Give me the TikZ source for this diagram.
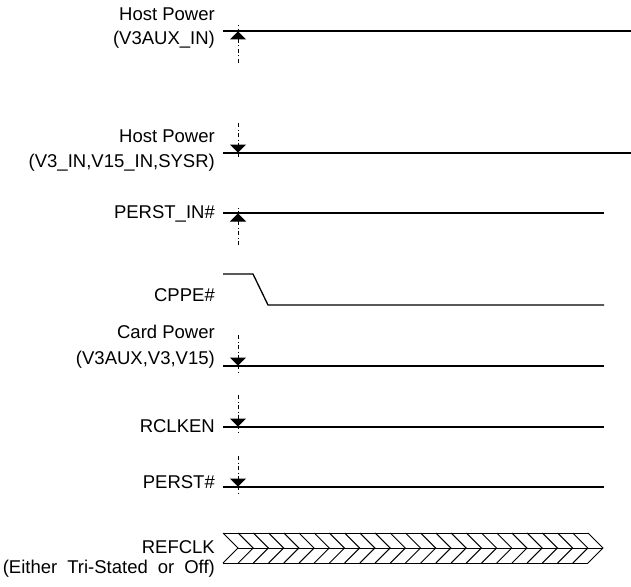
\documentclass[tikz,border=0pt]{standalone}
\usepackage{fontspec}
\setmainfont{Liberation Sans}
\usetikzlibrary{arrows.meta}
\begin{document}
\begin{tikzpicture}[x=1pt,y=-1pt,
  lbl/.style={anchor=base east, inner sep=0pt, font=\fontsize{18.5}{22}\selectfont},
  sig/.style={line width=1.3pt},
  evt/.style={line width=1pt, dash pattern=on 4pt off 2.5pt on 1pt off 2.5pt},
  arrowhead/.style={fill=black, draw=black, line width=1pt, line join=miter},
  clk/.style={line width=1pt, line join=miter}]
\useasboundingbox (0,0) rectangle (631,586);

% labels
\node[lbl] (l1a) at (215,20.6) {Host Power};
\node[lbl] (l1b) at (215,44.6) {(V3AUX\_IN)};
\node[lbl] (l2a) at (215,142.6) {Host Power};
\node[lbl] (l2b) at (215,167.6) {(V3\_IN,V15\_IN,SYSR)};
\node[lbl] (l3)  at (215,218.6) {PERST\_IN\#};
\node[lbl] (l4)  at (215,301) {CPPE\#};
\node[lbl] (l5a) at (215,338) {Card Power};
\node[lbl] (l5b) at (215,364.6) {(V3AUX,V3,V15)};
\node[lbl] (l6)  at (215,432) {RCLKEN};
\node[lbl] (l7)  at (215,488.5) {PERST\#};
\node[lbl] (l8a) at (215,553) {REFCLK};
\node[lbl] (l8b) at (215,573) {(Either\hspace*{10pt}Tri-Stated\hspace*{10pt}or\hspace*{10pt}Off)};

% signal lines
\coordinate (s1L) at (223,31);  \coordinate (s1R) at (631,31);
\coordinate (s2L) at (223,153); \coordinate (s2R) at (631,153);
\coordinate (s3L) at (223,213); \coordinate (s3R) at (604,213);
\coordinate (s5L) at (223,366); \coordinate (s5R) at (604,366);
\coordinate (s6L) at (223,427); \coordinate (s6R) at (604,427);
\coordinate (s7L) at (223,487); \coordinate (s7R) at (604,487);
\draw[sig] (s1L) -- (s1R);
\draw[sig] (s2L) -- (s2R);
\draw[sig] (s3L) -- (s3R);
\draw[sig] (s5L) -- (s5R);
\draw[sig] (s6L) -- (s6R);
\draw[sig] (s7L) -- (s7R);

% CPPE#
\coordinate (c1) at (223,274); \coordinate (c2) at (253,274);
\coordinate (c3) at (268,305); \coordinate (c4) at (604,305);
\draw[sig] (c1) -- (c2) -- (c3) -- (c4);

% event arrows: dotted shaft + filled triangular head
\coordinate (e1s) at (238,63);  \coordinate (e1t) at (238,32);
\coordinate (e2s) at (238,123); \coordinate (e2t) at (238,152);
\coordinate (e3s) at (238,245); \coordinate (e3t) at (238,214);
\coordinate (e5s) at (238,335); \coordinate (e5t) at (238,365);
\coordinate (e6s) at (238,395); \coordinate (e6t) at (238,426);
\coordinate (e7s) at (238,456); \coordinate (e7t) at (238,486);
% up arrows
\foreach \n in {1,3}{
  \draw[evt] (e\n s) -- ([yshift=7]e\n t);
  \filldraw[arrowhead] (e\n t) -- ++(-7,7) -- ++(14,0) -- cycle;
}
% down arrows
\foreach \n in {2,5,6,7}{
  \draw[evt] (e\n s) -- ([yshift=-7]e\n t);
  \filldraw[arrowhead] (e\n t) -- ++(-7,-7) -- ++(14,0) -- cycle;
}

% REFCLK band
\coordinate (rTL) at (223,533); \coordinate (rTR) at (588,533);
\coordinate (rBL) at (223,563); \coordinate (rBR) at (588,563);
\coordinate (rML) at (238,548); \coordinate (rMR) at (603,548);
\draw[clk] (rTL) -- (rTR);
\draw[clk] (rBL) -- (rBR);
\draw[clk] (rML) -- (rMR);
\foreach \k in {0,...,24}{
  \draw[clk] ({223+15.208*\k},533) -- ({238+15.208*\k},548) -- ({223+15.208*\k},563);
}
\end{tikzpicture}
\end{document}
